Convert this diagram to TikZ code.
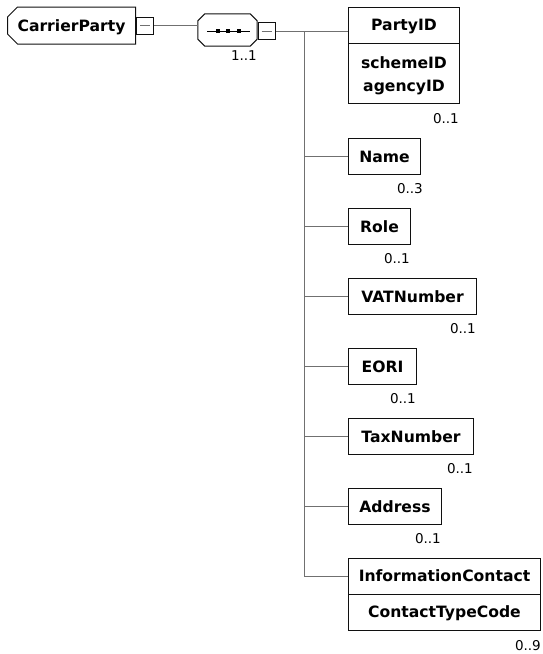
\documentclass[tikz,border=0pt]{standalone}
\usepackage{fontspec}
\setmainfont{DejaVu Sans}
\usetikzlibrary{shapes.misc,calc}
\definecolor{boxc}{HTML}{101010}
\definecolor{connc}{HTML}{707070}
\tikzset{
  elem/.style={draw=boxc, line width=1pt, fill=white, inner sep=0pt, anchor=north west},
  lbl/.style={font=\bfseries\fontsize{15.6}{18}\selectfont, inner sep=0pt, text=black, text height=11.4pt, text depth=0pt},
  mult/.style={font=\fontsize{13.5}{15}\selectfont, inner sep=0pt, anchor=east, text=black},
  minusbox/.style={draw=boxc, line width=1pt, fill=white, minimum size=17pt, inner sep=0pt, anchor=west},
  conn/.style={draw=connc, line width=1pt},
  minussign/.style={draw=connc, line width=1pt},
  octa/.style={draw=boxc, line width=1pt, fill=white},
}
\begin{document}
\begin{tikzpicture}[x=1pt,y=-1pt]
\useasboundingbox (0,0) rectangle (543,654);
\fill[white] (0,0) rectangle (543,654);

% root element
\node[lbl, draw=boxc, line width=1pt, fill=white, chamfered rectangle, chamfered rectangle corners={north west,south west}, chamfered rectangle xsep=5pt, chamfered rectangle ysep=5pt, minimum width=128pt, minimum height=37pt, anchor=west] (cp) at (7,25.5) {CarrierParty};
\node[minusbox] (cpm) at (cp.east) {};
\draw[minussign] (cpm.center) +(-5,0) -- +(5,0);

% sequence compositor
\node[inner sep=0pt, minimum width=59pt, minimum height=32pt] (seq) at (227.5,30) {};
\draw[octa] ($(seq.north west)+(7,0)$) -- ($(seq.north east)+(-7,0)$) -- ($(seq.north east)+(0,7)$)
  -- ($(seq.south east)+(0,-7)$) -- ($(seq.south east)+(-7,0)$) -- ($(seq.south west)+(7,0)$)
  -- ($(seq.south west)+(0,-7)$) -- ($(seq.north west)+(0,7)$) -- cycle;
\draw[black, line width=1pt] ($(seq.center)+(-20.5,1)$) -- ($(seq.center)+(22.5,1)$);
\foreach \dx in {-9.5,0.5,11.5} \fill[black] ($(seq.center)+(\dx,1)$) +(-2,-2) rectangle +(2,2);
\node[minusbox] (seqm) at ($(seq.east)+(0.5,1)$) {};
\draw[minussign] (seqm.center) +(-5,0) -- +(5,0);
\node[mult] (seqmult) at (257,56) {1..1};

\draw[conn] (cpm.east) -- (cpm.east -| seq.west);

% children
\node[elem, minimum width=111pt, minimum height=96pt] (pid) at (348,7) {};
\draw[boxc, line width=1pt] ($(pid.north west)+(0,36)$) -- ($(pid.north east)+(0,36)$);
\node[lbl] (pidt) at ($(pid.north)+(0,18)$) {PartyID};
\node[lbl] (pids) at ($(pid.north)+(0,56)$) {schemeID};
\node[lbl] (pida) at ($(pid.north)+(0,79)$) {agencyID};

\node[elem, lbl, minimum width=72pt, minimum height=36pt] (name) at (348,138) {Name};
\node[elem, lbl, minimum width=62pt, minimum height=36pt] (role) at (348,208) {Role};
\node[elem, lbl, minimum width=128pt, minimum height=36pt] (vat) at (348,278) {VATNumber};
\node[elem, lbl, minimum width=68pt, minimum height=36pt] (eori) at (348,348) {EORI};
\node[elem, lbl, minimum width=125pt, minimum height=36pt] (tax) at (348,418) {TaxNumber};
\node[elem, lbl, minimum width=93pt, minimum height=36pt] (addr) at (348,488) {Address};

\node[elem, minimum width=192pt, minimum height=72pt] (ic) at (348,558) {};
\draw[boxc, line width=1pt] ($(ic.north west)+(0,36)$) -- ($(ic.north east)+(0,36)$);
\node[lbl] (ict) at ($(ic.north)+(0,18)$) {InformationContact};
\node[lbl] (icc) at ($(ic.north)+(0,54)$) {ContactTypeCode};

% multiplicities
\node[mult] at ($(pid.south east)+(-1,15)$) {0..1};
\node[mult] at ($(name.south east)+(2,14)$) {0..3};
\node[mult] at ($(role.south east)+(-1,14)$) {0..1};
\node[mult] at ($(vat.south east)+(-1,14)$) {0..1};
\node[mult] at ($(eori.south east)+(-1,14)$) {0..1};
\node[mult] at ($(tax.south east)+(-1,14)$) {0..1};
\node[mult] at ($(addr.south east)+(-1,14)$) {0..1};
\node[mult] at ($(ic.south east)+(0,15)$) {0..9};

% connectors
\coordinate (tt) at (304,31);
\draw[conn] (seqm.east) -- (seqm.east -| pid.west);
\draw[conn] (tt) -- (tt |- ict);
\draw[conn] (tt |- name.west) -- (name.west);
\draw[conn] (tt |- role.west) -- (role.west);
\draw[conn] (tt |- vat.west) -- (vat.west);
\draw[conn] (tt |- eori.west) -- (eori.west);
\draw[conn] (tt |- tax.west) -- (tax.west);
\draw[conn] (tt |- addr.west) -- (addr.west);
\draw[conn] (tt |- ict) -- (ict -| ic.west);
\end{tikzpicture}
\end{document}
